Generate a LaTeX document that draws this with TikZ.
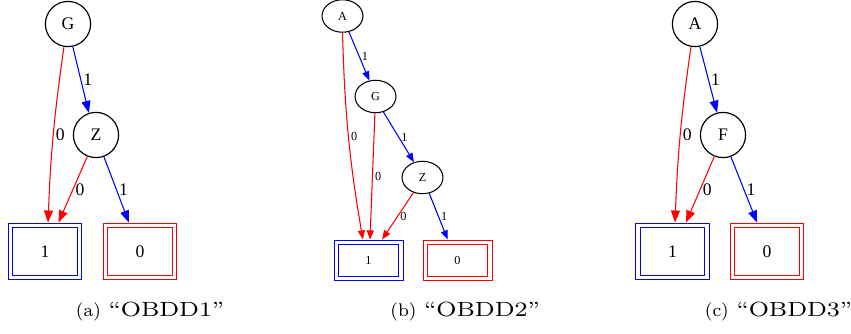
\documentclass[tikz,border=0pt]{standalone}
\usepackage{fontspec}
\newfontfamily\gvfont{Liberation Serif}
\usetikzlibrary{arrows.meta,shapes.geometric}
\definecolor{gvblue}{RGB}{0,0,255}
\definecolor{gvred}{RGB}{255,0,0}

\tikzset{
  % text sizes of the large diagrams (a), (c) and of the small one (b)
  bigtext/.style={font=\gvfont\fontsize{7.5}{9}\selectfont},
  smalltext/.style={font=\gvfont\fontsize{5.2}{6}\selectfont},
  varnode/.style={circle, draw, line width=0.5pt, minimum size=19.2pt, inner sep=0pt, bigtext},
  varell/.style={ellipse, draw, line width=0.45pt, minimum width=17.4pt, minimum height=13.8pt, inner sep=0pt, smalltext},
  % terminal: outer frame; the inner frame is added after all nodes are placed
  termbox/.style={rectangle, draw=#1, line width=0.4pt, inner sep=0pt},
  termbig/.style={minimum width=31.4pt, minimum height=24.2pt, bigtext},
  termsmall/.style={minimum width=29.3pt, minimum height=17.4pt, smalltext},
  innerframe/.style={draw=#1, line width=0.4pt},
  hiedge/.style={draw=gvblue, line width=0.45pt},
  loedge/.style={draw=gvred, line width=0.45pt},
  bigtip/.style={-{Triangle[length=5.1pt, width=3.8pt]}},
  smalltip/.style={-{Triangle[length=3.9pt, width=3pt]}},
  elab/.style={midway, right, inner sep=0.9pt},
  subcap/.style={anchor=base west, inner sep=0pt, font=\fontsize{7.8}{9}\selectfont}
}

\begin{document}
\begin{tikzpicture}[x=0.425pt, y=-0.425pt]
\useasboundingbox (0,0) rectangle (851,334);

% ---------- (a) OBDD1 ----------
\node[varnode] (gA) at (68,24) {G};
\node[varnode] (zA) at (96,135) {Z};
\node[termbox=gvblue, termbig] (oneA) at (45,251.5) {1};
\node[termbox=gvred, termbig] (zeroA) at (140,251.5) {0};
\draw[hiedge, bigtip] (gA.-78) -- node[elab, bigtext] {1} (zA.108);
\draw[loedge, bigtip] (gA.-100) to[bend right=3] node[elab, bigtext] {0} (oneA.84);
\draw[loedge, bigtip] (zA.-112) -- node[elab, bigtext] {0} (oneA.65);
\draw[hiedge, bigtip] (zA.-70) -- node[elab, bigtext] {1} (zeroA.111);

% ---------- (b) OBDD2 ----------
\node[varell] (aB) at (342.5,16) {A};
\node[varell] (gB) at (375.5,96.5) {G};
\node[varell] (zB) at (422.5,177.5) {Z};
\node[termbox=gvblue, termsmall] (oneB) at (368.5,260.5) {1};
\node[termbox=gvred, termsmall] (zeroB) at (457.5,260.5) {0};
\draw[hiedge, smalltip] (aB.-68) -- node[elab, smalltext] {1} (gB.111.5);
\draw[loedge, smalltip] (aB.-90) to[bend right=4] node[elab, smalltext] {0} (oneB.105);
\draw[loedge, smalltip] (gB.-92) -- node[elab, smalltext] {0} (oneB.86);
\draw[hiedge, smalltip] (gB.-63) -- node[elab, smalltext] {1} (zB.119);
\draw[loedge, smalltip] (zB.-121.5) -- node[elab, smalltext] {0} (oneB.57);
\draw[hiedge, smalltip] (zB.-67) -- node[elab, smalltext] {1} (zeroB.115);

% ---------- (c) OBDD3 ----------
\node[varnode] (aC) at (695,24) {A};
\node[varnode] (fC) at (723,135) {F};
\node[termbox=gvblue, termbig] (oneC) at (672.5,251.5) {1};
\node[termbox=gvred, termbig] (zeroC) at (767,251.5) {0};
\draw[hiedge, bigtip] (aC.-78) -- node[elab, bigtext] {1} (fC.105);
\draw[loedge, bigtip] (aC.-100) to[bend right=3] node[elab, bigtext] {0} (oneC.85);
\draw[loedge, bigtip] (fC.-112) -- node[elab, bigtext] {0} (oneC.65);
\draw[hiedge, bigtip] (fC.-70) -- node[elab, bigtext] {1} (zeroC.109);

% ---------- inner frames of the terminal boxes ----------
\foreach \n/\c in {oneA/gvblue, zeroA/gvred, oneB/gvblue, zeroB/gvred, oneC/gvblue, zeroC/gvred}
  \draw[innerframe=\c] ([shift={(2.2pt,2.3pt)}]\n.south west) rectangle ([shift={(-2.2pt,-2.3pt)}]\n.north east);

% ---------- sub-captions ----------
\node[subcap] (capA) at (75.5,316.4) {(a)\hspace{3.3pt}\scalebox{1.33}[1.12]{``OBDD1''}};
\node[subcap] (capB) at (390,316.4) {(b)\hspace{3.3pt}\scalebox{1.33}[1.12]{``OBDD2''}};
\node[subcap] (capC) at (704.5,316.4) {(c)\hspace{3.3pt}\scalebox{1.33}[1.12]{``OBDD3''}};
\end{tikzpicture}
\end{document}
